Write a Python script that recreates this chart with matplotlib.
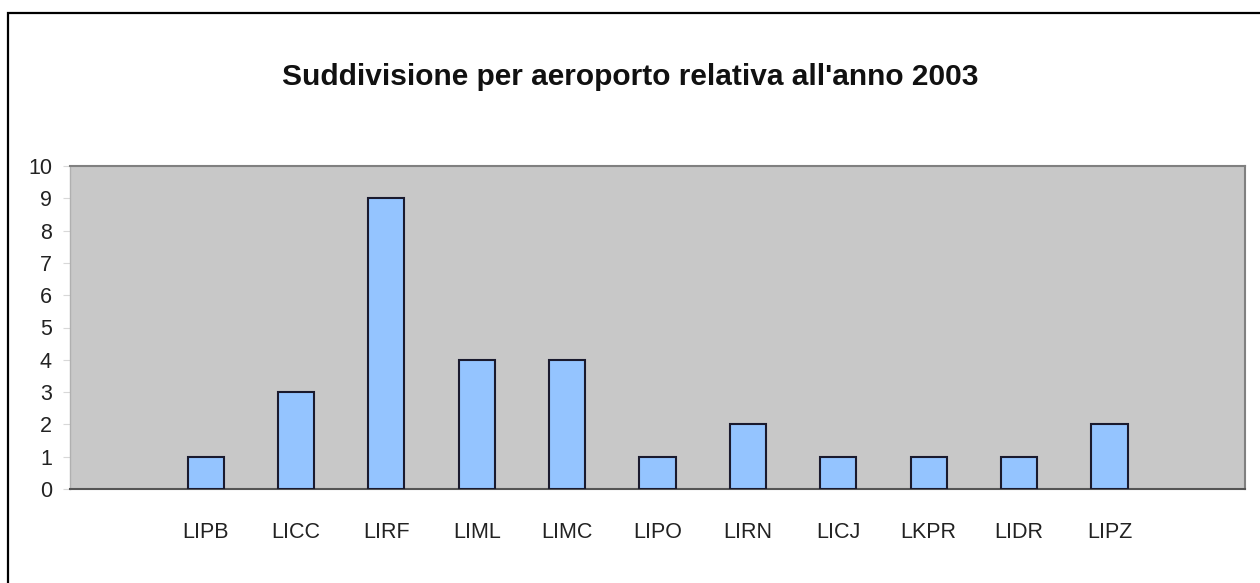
import matplotlib
matplotlib.use("Agg")
import matplotlib.pyplot as plt
from matplotlib.patches import Rectangle

categories = ["LIPB", "LICC", "LIRF", "LIML", "LIMC", "LIPO", "LIRN", "LICJ", "LKPR", "LIDR", "LIPZ"]
values = [1, 3, 9, 4, 4, 1, 2, 1, 1, 1, 2]
yticks = list(range(0, 11))
title = "Suddivisione per aeroporto relativa all'anno 2003"

plt.rcParams['font.family'] = ['Liberation Sans', 'DejaVu Sans']

W, H = 1260, 583
fig = plt.figure(figsize=(W / 100, H / 100), dpi=100)
fig.patch.set_facecolor("white")

# outer frame (only top and left visible in the reference)
fig.patches.append(Rectangle((8 / W, -0.1), 1.2, (H - 13) / H + 0.1,
                             transform=fig.transFigure, fill=False,
                             edgecolor="black", linewidth=1.6))

ax = fig.add_axes([70 / W, 1 - 489 / H, (1245 - 70) / W, (489 - 166) / H])
ax.set_facecolor("#C8C8C8")

x = list(range(len(categories)))
ax.bar(x, values, width=0.4, color="#94C4FF", edgecolor="#1a1a2e", linewidth=1.5, zorder=3)

ax.set_xlim(-1.5, len(categories) + 0.5)
ax.set_ylim(0, 10)
ax.set_yticks(yticks)
ax.set_yticklabels([str(v) for v in yticks])
ax.set_xticks(x)
ax.set_xticklabels(categories)
ax.tick_params(axis="y", length=5, color="#d8d8d8", pad=8, labelsize=15.5, labelcolor="#222222")
ax.tick_params(axis="x", length=0, pad=24, labelsize=15.5, labelcolor="#222222")

for s in ["top", "right"]:
    ax.spines[s].set_color("#808080")
    ax.spines[s].set_linewidth(1.5)
ax.spines["left"].set_color("#b0b0b0")
ax.spines["left"].set_linewidth(1.0)
ax.spines["bottom"].set_color("#555555")
ax.spines["bottom"].set_linewidth(1.5)

fig.text(0.5, 1 - 77 / H, title, ha="center", va="center",
         fontsize=21.5, fontweight="bold", color="#111111")

fig.savefig("out.png", dpi=100, facecolor="white")
